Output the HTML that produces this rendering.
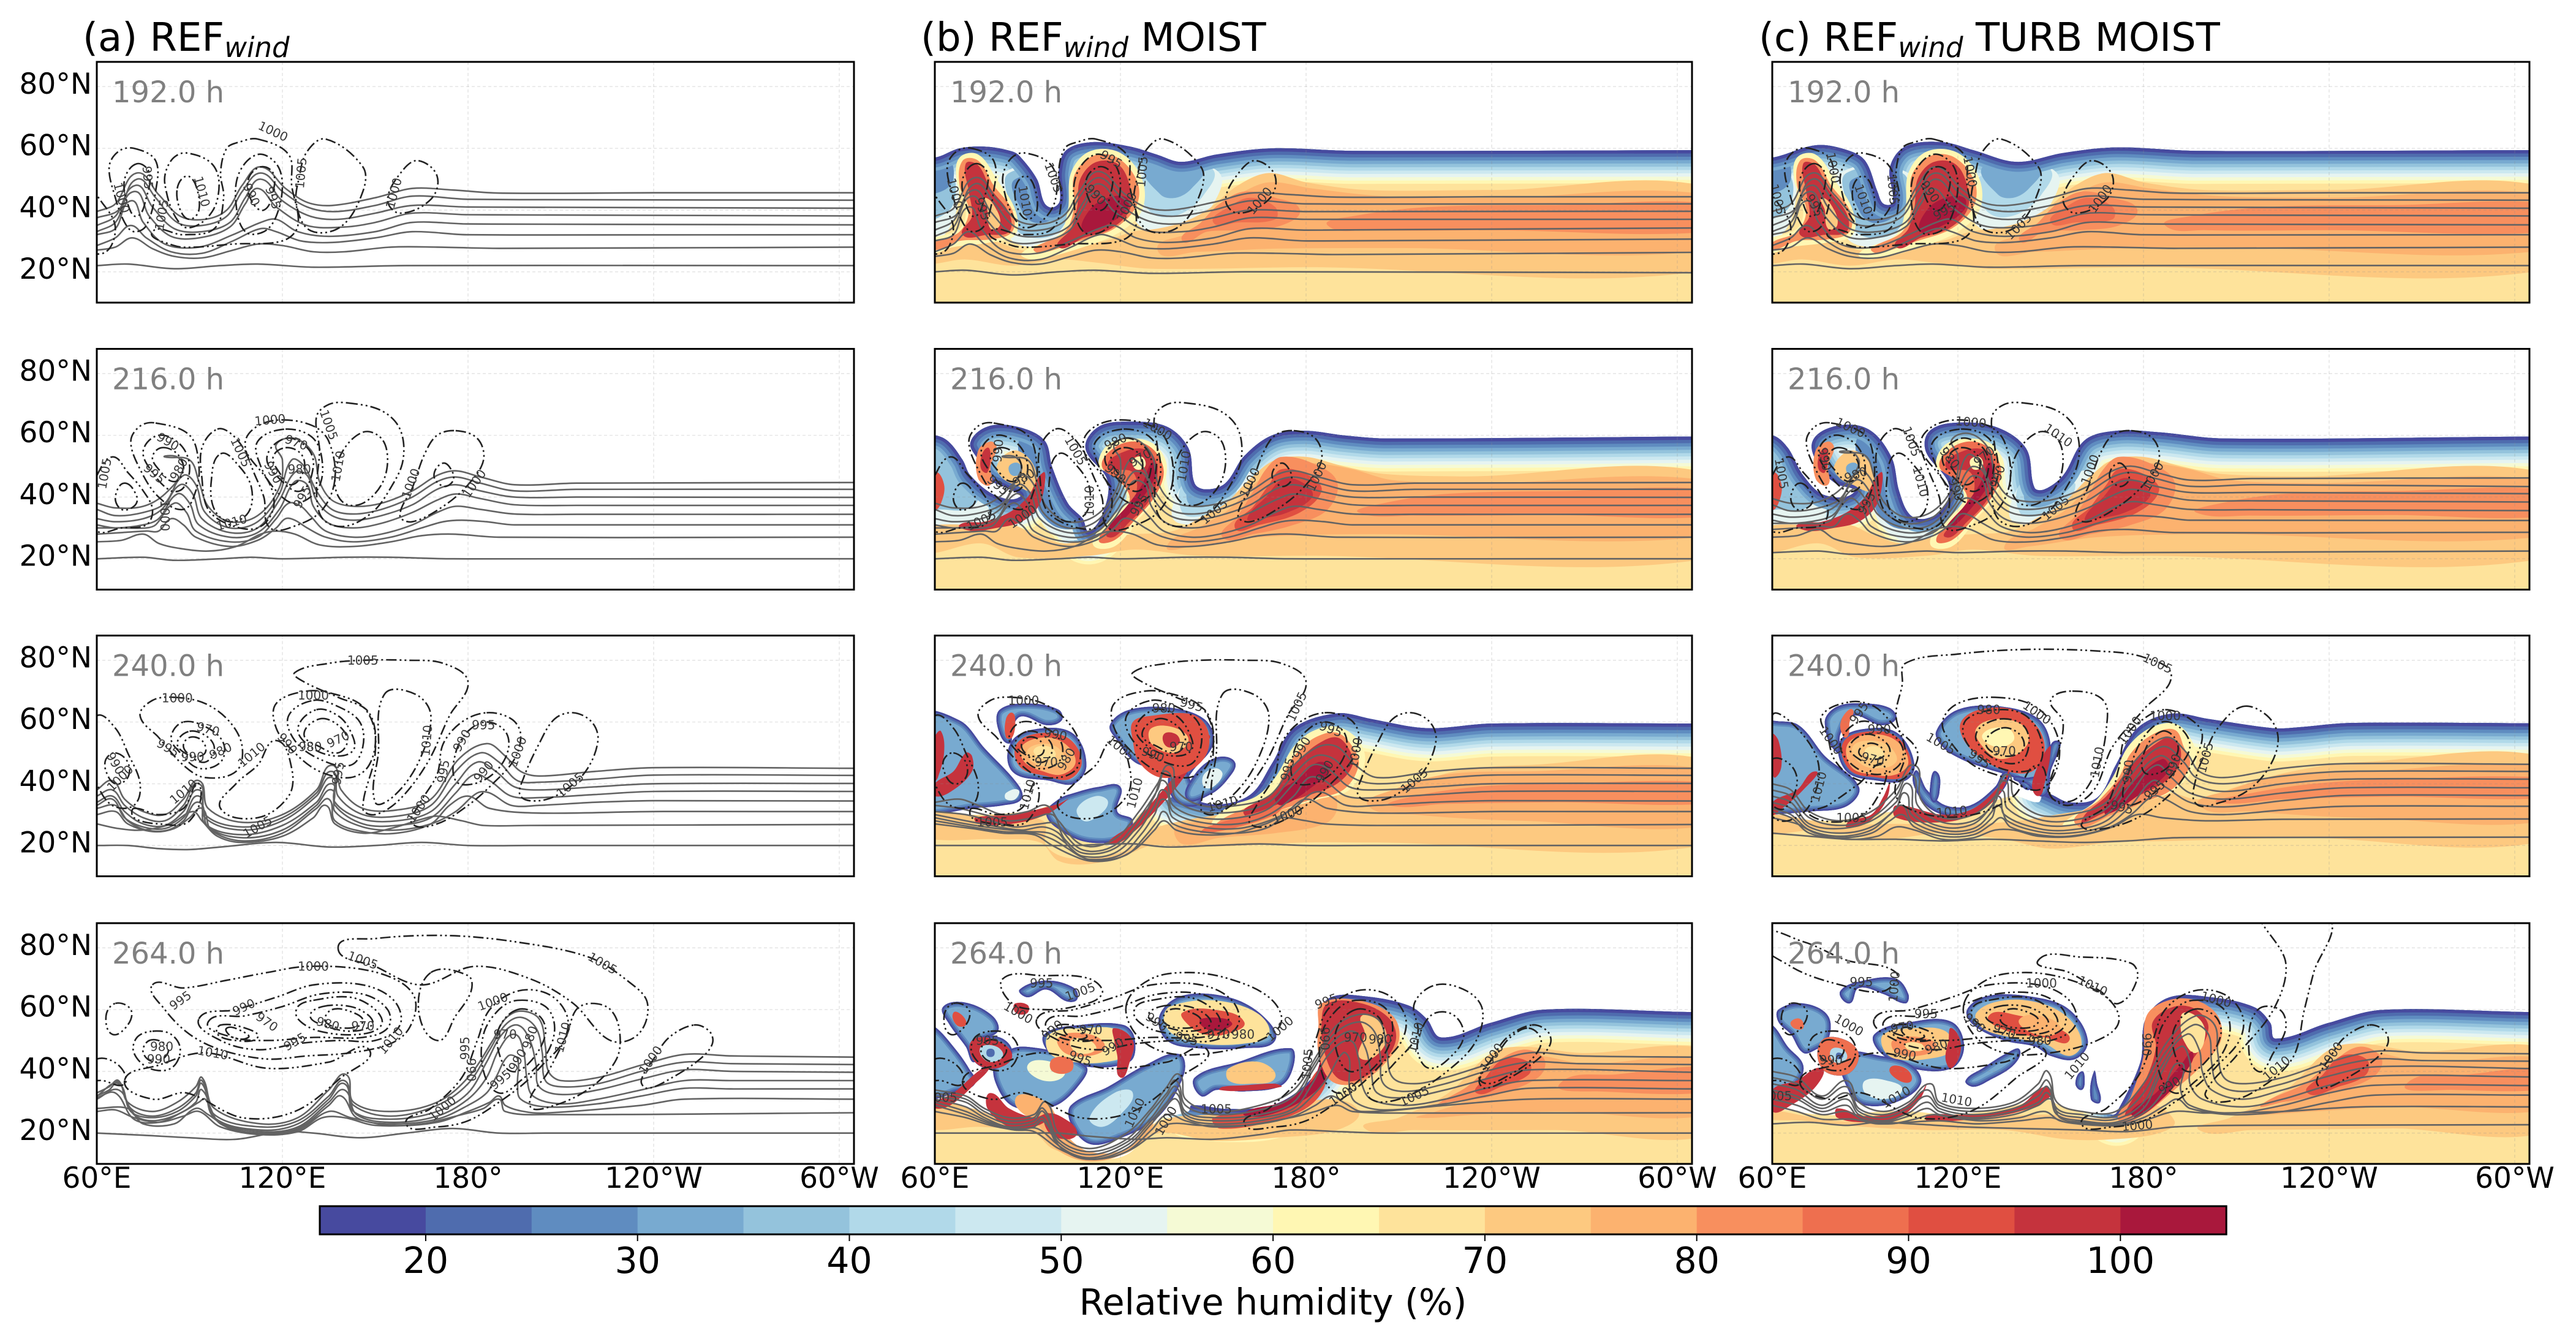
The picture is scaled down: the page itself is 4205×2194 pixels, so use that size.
<!DOCTYPE html>
<html lang="en">
<head>
<meta charset="utf-8">
<title>Relative humidity and sea level pressure panels</title>
<style>
html,body{margin:0;padding:0;background:#fff;}
svg{display:block;font-family:"DejaVu Sans","Liberation Sans",sans-serif;}
</style>
</head>
<body>
<svg id="figure" xmlns="http://www.w3.org/2000/svg" width="4205" height="2194" viewBox="0 0 4205 2194">
<rect x="0" y="0" width="4205" height="2194" fill="#fff"/>
<text x="135" y="83" font-size="64">(a) REF<tspan font-size="45" font-style="italic" dy="10">wind</tspan></text>
<text x="1503" y="83" font-size="64">(b) REF<tspan font-size="45" font-style="italic" dy="10">wind</tspan><tspan dy="-10"> MOIST</tspan></text>
<text x="2871" y="83" font-size="64">(c) REF<tspan font-size="45" font-style="italic" dy="10">wind</tspan><tspan dy="-10"> TURB MOIST</tspan></text>
<text x="2078" y="2146" font-size="58.5" text-anchor="middle">Relative humidity (%)</text>
<g id="panels"></g>
<g id="colorbar"></g>
</svg>
<script>
/* ---------- axis data ---------- */
const lonTicks = [60,120,180,240,300];
const lonTickLabels = ['60°E','120°E','180°','120°W','60°W'];
const latTicks = [20,40,60,80];
const latTickLabels = ['20°N','40°N','60°N','80°N'];
const rhTicks = [20,30,40,50,60,70,80,90,100];
const rhBounds = [15,20,25,30,35,40,45,50,55,60,65,70,75,80,85,90,95,100,105];
const rhColors = ['#474a9f','#4f6cae','#5f8cc0','#78aad0','#94c3dc','#b1d9e9','#cce8f0','#e6f4f1','#f5fad5','#fff7b3','#fee39b','#fdc980','#fcb26f','#f88f5e','#ee6f4f','#e04f41','#c5333d','#a9183c'];

/* ---------- theta contours (lon,lat pairs) ---------- */
const theta_a192 = [
[60,39.5,66,42,73,52,80,45,87,38,95,37,102,40,107,48,113,54,121,47,128,42.5,136,41.5,150,44,162,47,175,46.5,190,45.5,240,45.6,305,45.6],
[60,37.5,67,40,73,50,79,44,86,36,94,35,102,38,107,46,113,52,120,46,128,41,137,39.5,150,41.5,162,44.5,180,43.5,305,43.2],
[60,35,66,38,72.5,48,78,41,85,34,94,33,103,36,108,44,113,50,120,43,129,38,138,37,150,39,162,41.5,180,41,305,40.6],
[60,33,66,36,72,46,77,38,84,31.5,93,31,103,34.5,108,42,112,47,118,41,128,35,140,34.5,150,36,162,39,180,38.5,305,38.1],
[60,32,66,34,71,43,75,36,82,29,93,28,104,32,113,36,118,37,125,33,135,31.5,150,33,162,36,180,35.5,305,35.2],
[60,28.5,66,31,71,35,76,31,84,26.5,94,26,104,30,113,34,118,33,126,30,136,29.5,150,31,162,33,180,32,305,32],
[60,27,66,28,71.5,31,78,27.5,85,25,94,24.5,104,27,112,29,120,28.5,130,26.5,140,26.5,155,28,170,28,190,27.6,305,28],
[60,22,70,22.5,85,21,100,22,112,22.5,130,21.5,160,22,305,22]];
const theta_a216 = [
[60,38,66,36.5,75,37,82,41,88,49,86,53,82,53,90,52,93,45,96,37,103,32,112,34,119,43,120,52,118,57,124,59,130,54,132,45,136,39,143,37,152,38,162,42,170,47,176,48.5,184,46.5,195,44,215,44.5,305,44.7],
[60,36,66,34,75,35,82,38,88,47,92,44,95,35,103,30,112,32,119,41,123,52,127,50,131,42,136,36,143,34.5,152,36,162,40,170,45,176,46.5,184,44.5,195,42,215,42.5,305,42.5],
[60,33,66,32,75,33,81,36,87,44,91,41,94,33,103,28.5,112,30,119,39,124,48,128,47,131,39,136,34,143,32.5,152,34,162,37.5,170,42.5,176,44,184,42,195,40,215,40,305,39.9],
[60,31,66,30,75,31,80,33,86,41,90,38,93,31,103,27,112,28.5,119,36,124,45,128,44,130,37,135,31.5,143,30,152,31.5,162,35,170,39,176,41,184,39.5,195,37.5,215,37.3,305,37.3],
[60,30,68,30,76,30,79,31,85,38,89,35,92,29,103,25.5,112,27,118,33,122,38,126,37,129,34,134,29,143,27,152,28,162,31,170,35,176,37,184,36,195,34.5,215,34.4,305,34.4],
[60,28,68,28.5,76,29,80,29,84,33,88,31,92,27,103,24,112,26,118,30,121,33,124,32.5,128,30,134,27,143,25.5,155,27,165,30,172,32,178,32.5,186,32,195,31,305,31],
[60,25.5,68,26,75,28,80,25,86,23.5,96,22.5,105,24,113,28,118,29,124,28,132,24.5,143,24,155,25.5,165,27.5,175,28,190,27,305,27],
[60,20,75,20.5,85,19.5,100,20,110,20.5,120,20,140,20.5,155,20.5,175,20,305,20]];
const theta_a240 = [
[60,38,65,41,69,35,75,31,82,30,88,35,93,41,96,32,107,27.5,120,30,131,38,136,46,139,38,146,32,157,31.5,168,35,177,48,186,53,192,49,197,44,203,42.5,221,44,240,45.2,305,45],
[60,36,65,38,69,33,75,29,82,28,88,33,93,40,95,30,107,26,120,29,131,37,136,44,138,36,146,30,157,29.5,168,33,176,44,184,50,190,47,196,41,203,40.5,221,41.5,240,42.8,305,42.7],
[60,34,65,36,69,31,75,27,82,26.5,88,31,93,38,95,29,107,25,120,28,131,36,136,42,137,34,146,28.5,157,28,168,31,176,40,183,47,189,44,195,39,203,38,221,39,240,40,305,40.1],
[60,33,65,35,69,29,75,26,82,25.5,88,29,93,36,95,27,107,23.5,120,26.5,131,34,136,40,137,33,146,27,157,26.5,168,29,176,37,182,43,187,41,194,36,203,35.5,221,36.5,240,37.5,305,37.5],
[60,32,66,33,70,28,76,25,83,25,88,28,93,34,96,26,107,22.5,120,25,131,33,136,38,137,31,146,26,157,25,168,27,176,31,183,37,187,37,194,33,203,33,221,34,240,34.5,305,34.4],
[60,30,66,31,70,27,78,24.5,85,25.5,90,29,94,32,97,25,107,21.5,120,24,131,32,135,35,137,28,146,24.5,157,24,168,27,174,33,180,36,187,32,203,30.5,240,31,305,31],
[60,27,67,25.5,75,25,84,27,91,31,94,28,99,23,107,21,120,23,130,29,134,33,137,27,146,24,155,25.5,165,28.5,170,29.5,178,28,185,26.5,200,26.5,305,26.8],
[60,20,70,20,80,19,90,18.7,100,19.5,118,21,135,19.5,150,20,165,21,180,20,200,20,305,20]];
const theta_a264 = [
[60,33,64,35,67,37,70,30,78,27,86,30,92,35,94,38,98,28,113,23,125,25,135,34,140.5,39,143,30,155,27,170,30,180,38,188,50,192,57,197,59.5,203,57,205,48,206,40,210,37,222,38,236,42,250,45.5,265,45,305,44.6],
[60,32,64,34,67,36.5,71,28,78,25.5,86,28,92,33,94,37,98,26,113,22,125,24,135,32,140,37,143,29,155,25.5,170,29,180,36,187,47,192,55,197,57.5,202,54,204,46,205,37,210,35,222,36,236,40,250,43,265,42.5,305,42.2],
[60,32,67,36,71,27,78,25,86,27,92,32,94,36,98,25,113,21,125,23,135,31,140,36,143,27,155,24.5,170,27,180,33,186,43,191,52,196,55,200,50,202,42,203,35,210,32.5,222,34,236,37.5,250,40.5,265,40,305,39.7],
[60,31,67,34,72,26,78,24,86,26,92,30,94,34,99,24,113,20.5,125,22,135,30,140,34,144,26,155,23.5,170,25.5,180,31,186,38,190,47,195,52,198,46,199,38,201,32,210,29.5,222,31,236,34,250,37,265,37,305,37],
[60,31.5,66,33,72,24.5,80,23.5,88,27,93,30,95,31,100,23,113,20,125,21.5,135,29,139,32,144,25,155,23,170,24.5,180,29,186,33,189,38,193,45,196,44,196,36,197,31,205,28.5,222,29.5,236,32,250,34.5,265,34.3,305,34.3],
[60,28,70,28,75,23,85,23,92,28,96,26,103,21.5,113,19.8,125,21,135,27,142,25,155,22.5,170,23.5,180,27,187,30,190,32,192,29,198,27,205,26.5,236,29,250,31,305,31],
[60,27,66,27.5,72,25,80,23.5,88,25.5,93,27,100,22,113,19.5,125,20.5,133,25,140,25,150,22.5,165,23,178,26,185,28,190,31,192,27,205,26,305,26.6],
[60,20,75,19.3,90,18.5,105,18,120,20.5,130,20,145,18.5,160,20,175,21.5,190,20,205,20,305,20]];
const theta_b240 = [
[60,34,68,35,74,33,82,30,90,31,96,33,100,28,108,20,118,22,126,31,132,40,136,46,138,38,146,33,158,33,168,36,176,46,184,52,190,52,196,46,203,42,221,44,240,45.2,305,45],
[60,33,68,32,76,30,84,28,92,29,98,30,101,25,108,18.5,118,20,126,29,132,38,135,44,138,35,146,31,158,31,168,34,176,43,183,49,189,48,195,42,203,40,221,41.5,240,42.8,305,42.7],
[60,31,70,30,78,28,86,26,94,27,99,27,102,22,108,17.5,118,19,126,27,131,36,134,41,137,33,146,29,158,29,168,32,176,40,182,46,187,45,194,39,203,38,221,39,240,40,305,40.1],
[60,30,70,28,78,26.5,88,25,95,26,100,24,103,20,108,16.5,118,17.5,126,25,131,33,134,38,137,31,146,27.5,158,27,168,30,176,36,181,42,186,41,193,36,203,35.5,221,36.5,240,37.5,305,37.5],
[60,29,70,27,80,25.5,90,24.5,97,24,102,21,105,18,110,15.5,120,17,127,24,131,30,134,35,137,29,146,26,158,25.5,168,28,176,32,182,37,186,37,193,33,203,33,221,34,240,34.5,305,34.4],
[60,28,72,26,82,24.5,92,24,98,22,103,19,107,16.5,112,15,122,17,128,23,132,28,134,31,137,27,146,24.5,158,24,168,26,174,31,180,35,187,32,203,30.5,240,31,305,31],
[60,27,72,25.5,82,24,92,23.5,98,20,104,17,110,15,118,15.5,125,19,131,25,134,28,138,25,146,23.5,157,24,167,27,172,29,180,28,186,27,203,26.5,305,26.8],
[60,20,75,20,95,20,105,20,118,20.5,125,20.5,135,19.5,150,20,165,20.5,180,20,200,20,305,20]];
const theta_b264 = [
[60,34,70,32,76,28,84,25,92,26,96,30,100,20,110,15,122,20,130,28,135,35,139,39,141,31,150,27,165,29,176,34,184,46,190,55,198,58.5,204,56,206,47,208,38,215,36,225,38,238,42,252,46,268,45,305,44.6],
[60,33,70,31,76,27,84,24,92,25,95,28,100,18,110,14,122,18,130,27,135,33,138,37,141,29,150,26,165,27.5,176,32,183,43,189,52,197,56,202,53,204,45,205,36,212,33.5,225,36,238,40,252,43,268,42.5,305,42.2],
[60,32,70,30,76,26,84,23,92,24,95,27,100,17,110,13,122,17,130,25,135,32,138,35,141,27,150,25,165,26,176,30,182,40,188,49,195,53,199,48,201,40,203,33,212,31.5,225,34,238,37.5,252,40.5,305,39.7],
[60,31,70,28.5,76,25,84,22,92,23,95,25,100,16,110,12,122,16,130,24,135,30,138,33,141,26,150,24,165,25,176,28,182,36,187,45,194,50,197,44,198,36,201,31,212,29,225,31,238,34.5,252,37,305,37],
[60,30,70,27,78,23.5,86,21.5,92,22,95,24,101,15,110,11.5,122,15,130,23,135,29,138,31,141,25,150,23,165,24,176,27,182,32,187,38,192,46,194,44,194,35,196,30,205,27.5,225,29.5,238,32,252,34.5,305,34.3],
[60,29,70,26,78,23,86,21,93,21.5,100,16,105,13,112,11.5,122,14,130,21,135,26,141,24,150,22,165,23,176,25.5,183,29,188,32,192,30,198,27,225,29,252,31,305,31],
[60,27,70,25,78,22.5,86,21,92,20.5,100,15,108,12,116,12,124,15,131,20,136,23,146,22.5,160,22.5,175,25,183,27,190,29,195,27,215,26.5,305,26.6],
[60,20,80,20,92,20,100,20,110,19,125,18,135,18.5,150,18,165,19.5,175,21,190,20.5,205,20,305,20]];
const theta_b192 = [
[60,38,66,40.5,73,50.5,80,43.5,87,36.5,95,35.5,102,38.5,107,46.5,113,52.5,121,45.5,128,41,136,40,150,42.5,162,45.5,175,45,190,44.2,240,44.3,305,44.3],
[60,36,67,38.5,73,48.5,79,42.5,86,34.5,94,33.5,102,36.5,107,44.5,113,50.5,120,44.5,128,39.5,137,38,150,40,162,43,180,42,305,42],
[60,33.5,66,36.5,72.5,46.5,78,39.5,85,32.5,94,31.5,103,34.5,108,42.5,113,48.5,120,41.5,129,36.5,138,35.5,150,37.5,162,40,180,39.5,305,39.6],
[60,31.5,66,34.5,72,44.5,77,36.5,84,30,93,29.5,103,33,108,40.5,112,45.5,118,39.5,128,33.5,140,33,150,34.5,162,37.5,180,37,305,37],
[60,30,66,32,71,41,75,34,82,27,93,26,104,30,113,34,118,35,125,31,135,29.5,150,31,162,34,180,33.5,305,34.2],
[60,26.5,66,29,71,33,76,29,84,24.5,94,24,104,28,113,32,118,31,126,28,136,27.5,150,29,162,31,180,30,305,30.6],
[60,25,66,26,71.5,29,78,25.5,85,23,94,22.5,104,25,112,27,120,26.5,130,24.5,140,24.5,155,26,170,26,190,25.6,305,26.3],
[60,20,70,20.5,85,19,100,20,112,20.5,130,19.5,160,20,305,19.7]];
const theta_c216 = [
[60,39.5,66,38,75,38.5,82,42.5,88,50.5,86,54.5,82,54.5,90,53.5,93,46.5,96,38.5,103,33.5,112,35.5,119,44.5,120,53.5,118,58.5,124,60.5,130,55.5,132,46.5,136,40.5,143,38.5,152,39.5,162,43.5,170,48.5,176,50,184,48,195,45.5,215,46,305,46.2],
[60,37.5,66,35.5,75,36.5,82,39.5,88,48.5,92,45.5,95,36.5,103,31.5,112,33.5,119,42.5,123,53.5,127,51.5,131,43.5,136,37.5,143,36,152,37.5,162,41.5,170,46.5,176,48,184,46,195,43.5,215,44,305,43.4],
[60,34.5,66,33.5,75,34.5,81,37.5,87,45.5,91,42.5,94,34.5,103,30,112,31.5,119,40.5,124,49.5,128,48.5,131,40.5,136,35.5,143,34,152,35.5,162,39,170,44,176,45.5,184,43.5,195,41.5,215,41.5,305,41.1],
[60,32.5,66,31.5,75,32.5,80,34.5,86,42.5,90,39.5,93,32.5,103,28.5,112,30,119,37.5,124,46.5,128,45.5,130,38.5,135,33,143,31.5,152,33,162,36.5,170,40.5,176,42.5,184,41,195,39,215,38.8,305,38.4],
[60,31.5,68,31.5,76,31.5,79,32.5,85,39.5,89,36.5,92,30.5,103,27,112,28.5,118,34.5,122,39.5,126,38.5,129,35.5,134,30.5,143,28.5,152,29.5,162,32.5,170,36.5,176,38.5,184,37.5,195,36,215,35.9,305,35.6],
[60,29.5,68,30,76,30.5,80,30.5,84,34.5,88,32.5,92,28.5,103,25.5,112,27.5,118,31.5,121,34.5,124,34,128,31.5,134,28.5,143,27,155,28.5,165,31.5,172,33.5,178,34,186,33.5,195,32.5,305,32.4],
[60,27,68,27.5,75,29.5,80,26.5,86,25,96,24,105,25.5,113,29.5,118,30.5,124,29.5,132,26,143,25.5,155,27,165,29,175,29.5,190,28.5,305,28.6],
[60,22,75,22.5,85,21.5,100,22,110,22.5,120,22,140,22.5,155,22.5,175,22,305,22.5]];
const theta_c240 = [
[60,40,66,38,72,31,82,28,92,31,100,38,106,46,108,35,115,29,125,30,132,36,136,43,138,36,146,30,156,30,168,34,176,46,187,55,194,50,198,44,206,42,225,45,245,46.5,305,46.3],
[60,38,66,36,72,29,82,26.5,92,29,100,36,105,43,107,33,115,27.5,125,28,132,34,135,41,137,34,146,28.5,156,28,168,32,176,43,186,52,193,47,197,42,206,40,225,42.5,245,44,305,44],
[60,36,66,34,72,27,82,25.5,92,28,100,34,104,40,106,31,115,26,125,27,131,33,134,38,136,32,146,27,156,26.5,168,30,176,40,185,49,191,45,196,40,206,37.5,225,40,245,41.5,305,41.5],
[60,34,66,32,72,26,82,24,92,26,100,32,103,37,105,30,115,25,125,25.5,131,31,133,36,135,30,146,25.5,156,25,168,28,176,37,184,46,189,42,195,37,206,35,225,37,245,38.7,305,38.7],
[60,32,66,30,72,25,82,23,92,25,98,30,102,33,105,28,115,24,125,24.5,131,29,133,33,136,28,146,24.5,156,24,168,26.5,176,33,183,41,187,39,195,34,206,32.5,225,34.5,245,36.2,305,36.2],
[60,31,66,29,72,24,82,22.5,92,24,98,28,102,30,106,26,115,23,125,23.5,131,27,134,29,137,26,146,23.5,156,23,168,25.5,176,30,183,36,187,35,195,31,206,30,225,31.5,245,32.7,305,32.7],
[60,29,68,27,74,24,84,22,94,23,100,26,106,25,115,22,125,22.5,132,25,138,25,146,23,158,23,170,26,178,30,186,29,200,28,225,28.5,305,28.6],
[60,24,72,23,85,22,100,22,115,21.5,130,22,145,21.5,160,21,175,21.5,190,22.5,210,22.6,305,22.7]];
const theta_c264 = [
[60,40,68,38,76,32,84,37,88,30,96,27,104,30,111,36,114,30,125,28,138,30,146,36,149,40,152,30,160,27,171,27,180,36,188,50,197,58,203,55,204,46,206,38,212,36,225,38,240,43,255,46.5,270,46,305,45.7],
[60,38,68,36,76,31,84,35,88,28,96,26,104,29,110,34,114,29,125,27,138,29,146,34,149,37,152,28,160,26,171,25.5,180,33,187,46,196,55,201,52,202,43,204,36,212,33.5,225,36,240,41,255,44,270,43.5,305,43.3],
[60,36,68,34,76,29,84,33,88,27,96,25,104,28,110,32,114,28,125,26,138,28,146,32,149,35,152,27,160,25,171,24.5,180,30,186,42,194,52,198,47,199,40,202,34,212,31,225,34,240,38.5,255,41.5,305,40.9],
[60,34,68,32,76,28,84,31,88,26,96,24,104,26.5,110,30,114,27,125,25,138,27,146,30,149,33,152,26,160,24,171,23.5,180,28,185,38,192,48,195,43,195,36,199,31,212,28.5,225,31,240,35.5,255,38.5,305,38.2],
[60,33,68,31,76,27,84,29,88,25,96,23.5,104,25.5,110,28,114,26,125,24.5,138,26,146,29,150,31,153,25,160,23.5,171,23,180,26.5,186,33,190,42,193,42,192,34,195,29,208,26.5,225,29,240,33,255,35.5,305,35.4],
[60,31,68,29,76,26,84,27,90,24,98,23,106,24.5,112,26,118,25,128,24,140,25,148,27,153,24,161,23,171,22.5,180,25,187,29,191,31,195,28,208,26,225,27,240,30,255,32.3,305,32.3],
[60,29,68,27,76,24.5,86,24.5,94,23,104,23.5,114,24,126,23,140,24,150,25,155,23.5,165,22.5,173,22.5,180,24,190,27,200,26.5,225,27,250,28.5,305,28.5],
[60,23,72,23.5,84,22.5,94,23.5,105,23,122,22,140,21.5,160,21,175,20.5,190,22,210,22.5,305,22.7]];

/* ---------- pressure contours (closed rings, lon,lat pairs) ---------- */
const slp_192 = [
[56,47,62,42,66,34,62,26,54,30],
[72,60,79,56,79,46,76,35,72,33,69,36,66,44,64,54,67,59],
[73,55,77,52,76,44,73,38,70,42,69,50],
[82,48.5,84,56,89,58.5,98,54,99,43.5,94,36,87.5,35],
[86,47,89,51,92,48,93,40,90,37,87,40],
[112,63,122,58,123,48,125,35,120,30,104,29,92,28,85,28.5,78,33,88,32,98,34,101,44,100,52,102,60,106,62],
[112,58,118,55,120,48,118,38,114,33,108,33,105,42,106,52],
[113,54,117,52,117,46,114,40,110,43,109,50],
[134,63,146,54,146,46,139,34.7,129,33.4,124.5,42,125.5,51,128,59],
[164,56,170,51,168,43.5,158,39,154,43.5,159,53]];
const slp_216 = [
[79,64,90,60,93,50,92,42,88,36,80,40,74,49,71,58,74,63],
[80,60,87,57,90,50,88,43,84,42,78,48,75,55],
[81,56,86,54,88,49,85,45,80,49,78,53],
[69,44.5,73,40,72,37,68,36,66,40],
[60,47,65,53,70,48,75,42,78,36,76,31,68,30,60,29,56,38],
[99,62,104,60,110,52,116,44,117,36,112,30,103,31,96,36,94,46,94,56],
[100,54,106,50,110,43,109,35,103,32,98,36,97,45],
[120,65,130,63,135,58,137,46,133,36,125,31,116,30,114,40,110,50,108,58,112,63],
[121,62,130,59,133,50,131,42,124,38,118,42,113,50,112,58],
[121,59,128,56,130,50,126,42,119,46,115,53],
[121,56,126,54,127,49,123,44,119,48,117,53],
[141,70.5,152,68,158,62,159,52,155,43,149,35,140,30.5,133,33,131,42,132,55,131,66,135,70],
[146,61,152,59,154,52,152,44,146,38,140,38,137,44,139,54],
[176,61.5,183,59,185,52,180,44,172,37,162,32,158,34,162,43,166,54,170,60],
[172,51,175,48,175,45,172,43.5,169,47]];
const slp_a240 = [
[124,76,135,79,146,80,160,80,172,79,180,73,174,62,167,47,158,35,150,30,146,32,150,50,148,63,138,68,127,73],
[153,69,163,69,168,62,164,47,156,36,150,34,151,50],
[85,68,95,66,103,60,107,52,105,44,95,42,88,46,80,55,74,62,78,67],
[88,60,96,58,101,53,100,47,93,45,87,50,84,55],
[90,57,96,55,98,51,95,47,90,49,86,53],
[90,55,94,54,95,50,91,49,88,52],
[128,70,137,69,146,65,150,56,148,46,142,42,132,44,124,50,118,58,118,66],
[130,67,138,65,145,60,146,52,142,46,132,48,124,54,122,62],
[131,64,138,62,142,57,143,51,137,49,129,52,125,58],
[132,61,138,59,141,54,138,50,132,52,127,56],
[118,54,123,45,122,36,112,29,100,32,105,40,112,46],
[186,63,194,61,197,56,195,48,188,40,180,33,170,27,162,27,164,33,170,43,172,53,178,60],
[186,60,192,57,193,51,189,44,182,40,176,41,176,50,180,57],
[214,63,220,60,222,54,218,44,210,37,203,34.5,197,36,198,42,203,53,208,61],
[60,62,66,58,70,50,74,40,72,33,65,33,60,40,56,52],
[66,50,70,47,70,42,66,40,63,44,63,48],
[72,32,80,30,88,32,93,40,90,28,80,27,72,29]];
const slp_c240 = [
[103,79,120,82,142,83.5,165,83,180,81,189,75,180,64,170,52,164,38,156,33,150,36,146,46,138,36,125,30,110,30,100,36,103,50,100,62,102,72],
[132,68,145,65,152,56,152,45,146,38,135,42,125,46,118,53,115,60,120,66],
[133,64,142,62,147,54,146,46,138,44,128,48,122,55,123,61],
[134,61,141,59,143,53,140,47,132,48,126,54,127,58],
[134,58,140,56,141,51,135,49,129,53],
[157,70,167,67,168,58,165,45,158,35,150,36,152,48,154,60,150,67],
[85,66.5,93,65,100,58,107,50,103,42,95,40,86,42,80,48,78,55,76,62],
[88,60,96,58,102,52,101,46,94,43,86,46,82,53],
[90,56,96,54,98,50,94,46,88,48,85,52],
[91,53,95,52,96,49,92,48,88,50],
[187,64,195,61,199,56,196,47,188,36,176,28,163,25,160,27,168,33,172,45,174,55,180,61],
[186,60,192,58,195,52,191,45,182,36,174,34,176,46,180,55],
[186,57,190,55,191,50,186,44,180,44,181,52],
[212,65,220,62,223.5,55,221,46,214,38,205,34,197,33.5,197,42,200,50,204,58],
[60,48,66,46,68,40,64,32,60,33,55,40],
[60,62,68,58,75,46,72,33,65,28,60,30],
[72,30,85,28,93,34,96,46,88,40,78,33]];
const slp_common264 = [
[93,57,105,60,118,64,130,68,146,68,156,63,158,55,150,50,138,50,125,49,112,47,100,50],
[96,56,108,58,120,61,132,65,146,65,154,60,154,54,146,51,130,51,116,50,104,51],
[130,63,142,64,150,60,152,55,145,52,132,53,125,57,125,61],
[133,61,142,61,148,58,149,55,142,53,133,55,129,58],
[136,60,143,59,146,56,141,54,134,56],
[100,55,108,54,112,51,105,50,99,52],
[102,54,107,53,109,51,104,51],
[78,53,84,52,87,47,84,41,77,41,72,46,73,51],
[77,50,82,49,83,46,79,43,75,46],
[66,62,71,60,70,55,65,52,63,58],
[196,66,206,65,212,58,211,50,204,42,198,36,190,30,180,24,170,22,160,23,168,28,178,38,183,50,187,60],
[196,63,205,61,208,54,205,45,197,37,190,33,185,40,185,52,190,60],
[196,60,203,58,205,52,200,43,194,40,190,46,190,54],
[69,37,78,31,89,33,107,25,124,27,139,38,148,47,135,43,115,41,95,46,80,42],
[60,44,67,42,69,36,62,37,56,38],
[253,55,258,53,259,49,255,44,246,38,238,34.5,236,37,240,44,245,51]];
const slp_a264top = [
[138,80,150,83,173,84,195,82,219,77,232,69,238,62,235,52,226,50,214,62,200,70,182,74,165,68,150,74],
[78,68,88,67,102,69.5,115,72,128,74,146,73,158,69,163,63,161,54,155,49,142,46,128,45,115,44,100,47,90,52,82,60],
[168,72,180,71,181,66,176,58,170,50,164,60],
[220,62,226,60,229,53,228,44,220,35,208,29,200,29,206,40,212,52,215,60]];
const slp_b264top = [
[82,70,95,71,110,70,114,65,105,61,95,60,85,62],
[122,62,130,70,142,72,155,70,168,64,172,56,165,50,150,46,135,46,125,52],
[222,68,232,66,237,60,235,50,228,42,215,33,204,30,200,33,208,42,216,52,215,62],
[222,59,228,58,231,52,228,46,220,41,216,47,218,55],
[252,54,256,50,253,44,246,39,239,36,236,38,242,46,246,51]];
const slp_c264top = [
[146,76,160,77,176,75,178,70,172,62,166,66,156,72],
[218,95,240,90,235,72,232,60,228,44,215,33,204,30,200,33,210,45,222,60,226,75],
[56,84,70,82,84,76,100,72,96,66,82,68,66,74],
[122,62,130,70,142,72,155,70,168,64,172,56,165,50,150,46,135,46,125,52],
[217,60,224,60,226,54,222,46,217,40,214,50]];

/* ---------- pressure contour labels (text, lon, lat, rotation) ---------- */
const slpText_a192 = [['1000',117,65.5,25],['1005',126,52,-85],['1000',156,45.5,-75],['1010',94,46,75],['1000',68,44,75],['1005',81,38.5,-80],['995',76.5,50.5,85],['990',110,45,65],['995',117,44,70]];
const slpText_b192 = [['995',117,56.5,30],['1005',127,52.4,-85],['1005',98.4,50.5,70],['990',112,45,45],['1000',66.5,45.4,75],['1010',89.2,43,80],['995',75.4,40.4,70],['1000',122,41,-65],['1000',165,43,-50]];
const slpText_c192 = [['1000',79.7,53.7,80],['1000',124,52.4,80],['1005',61.7,43.5,75],['1005',99,46.7,85],['1010',89.5,43.5,70],['995',73.7,41.6,60],['990',111,46,55],['995',115.6,39.7,-30],['1005',139.6,34.7,-45],['1000',166,43.7,-55]];
const slpText_a216 = [['1000',116,65,-5],['1005',135,63.4,70],['990',83,58,30],['1005',62.5,47.6,-80],['995',78.6,47.6,40],['980',86.5,49,-60],['1000',82,34,90],['1005',106.5,54.5,65],['1010',103.6,31.8,-15],['990',117,48,60],['970',124.5,57.7,20],['980',125.5,49,0],['995',126.4,40,-60],['1010',138,50,-80],['1000',161.5,44.4,-70],['1000',182,44.4,-55]];
const slpText_b216 = [['1000',132,62,30],['980',118.4,58,-25],['990',80.4,55,-85],['1005',105.5,55,60],['970',126.4,52.7,-30],['990',118.4,47.6,40],['980',88.7,46.3,-30],['995',80.4,43.8,40],['1010',140.5,50,-80],['1000',161.8,44.7,-65],['1000',183.4,46.7,-65],['1010',110,38.7,-90],['995',126,37.5,-60],['1005',150.3,35.3,-40],['1005',75,32.4,-25],['1000',88.3,33.7,-35]];
const slpText_c216 = [['1000',85.3,62.5,25],['1000',124.2,64.3,5],['1005',105,58,70],['1010',152.5,60,35],['1005',63,47.6,80],['990',77,52.3,80],['980',87,47.3,-20],['980',117.4,52.7,50],['970',128.5,53.3,-40],['1010',108,45,75],['990',119.4,42.5,70],['990',132.8,46.7,-70],['995',90.5,38,-60],['1000',162.7,48.9,-70],['1000',183,46.7,-60],['1005',151.6,36.5,-40]];
const slpText_a240 = [['1005',146,80,0],['1000',86,67.8,0],['1000',130,68.7,0],['970',96,57.7,15],['980',100,50.6,-25],['990',91,48.7,0],['995',83,51.6,30],['990',121.6,53,50],['980',129,52,0],['970',138,54.4,-25],['1010',110,49.4,-40],['1010',88,37.5,-40],['1005',112,26,-30],['1010',166.6,54,-85],['995',185,59,0],['990',178,54,-60],['995',172,44,-80],['990',185,44,-50],['1000',164,32,-55],['1000',196,50.4,-70],['1005',213,39.6,-40],['995',138,43.4,-80],['990',66,46.6,60],['1000',67.5,41.8,-45]];
const slpText_b240 = [['1005',177,65,-65],['1000',88.7,67,0],['980',134,64.5,0],['995',143,65.6,15],['995',188,57.7,20],['990',178.6,51.6,-60],['995',174,44.7,-75],['990',186,44,-60],['1000',196,50,-80],['1005',215,41,-40],['1000',174,30,-20],['1005',78.6,27.6,0],['1010',90,36.5,-75],['1010',153,33.5,-15],['1010',124.6,37,-75],['1005',120,51.6,40],['990',130.5,49.5,20],['970',139.6,52,0],['990',99,56,10],['970',96,47,0],['980',102.5,48,-60]];
const slpText_c240 = [['1005',184.6,79,25],['1005',200,48.5,-75],['1000',187,62,0],['1000',175.6,57.3,-55],['1010',165,47,-80],['1000',145.6,63,35],['980',130,64,0],['970',135,50.6,0],['995',127,48,35],['1005',114.5,53,30],['1000',79,54,55],['995',88,63,-55],['990',94.6,57.6,0],['970',92.5,48,15],['1010',75,39,-75],['1005',85.7,29,0],['1010',118,31,-5],['995',173,32.4,15],['995',183.6,38,-40],['990',175,44,-85],['990',189.6,46,-70]];
const slpText_a264 = [['995',87,63,-35],['990',107.5,60.8,-25],['970',115,56,35],['1000',130,74,0],['1005',146,76,20],['1005',223.5,75,30],['980',134.7,55.4,15],['970',146,54.7,0],['995',124,49.6,-30],['1010',155,50,-50],['1010',97.5,46,10],['1000',188,62.6,-20],['970',192,52,0],['980',200,51,-70],['1010',210.6,51,-75],['995',179,47.5,-90],['990',181,40.5,90],['990',196,43.7,-60],['995',190.5,37.3,-40],['1000',171.7,28,-40],['1000',239,43.7,-55],['980',81,48,0],['990',80,44,0]];
const slpText_b264 = [['995',94.5,68.6,0],['1005',107,65.8,-20],['1000',87,59,30],['905',77,50,0],['970',110.4,53.5,0],['990',98,53.4,-40],['990',117.5,48,-30],['995',107,44.3,20],['990',131.7,56,35],['995',141.4,50.6,15],['970',151.7,52,0],['980',159.6,52,0],['1000',171.5,53.8,-40],['1005',180.4,42.4,-85],['995',186.5,62.7,-20],['990',186,50.6,90],['970',196,51,0],['980',204,50.4,0],['1010',215.4,51,-75],['1000',192,32.7,-35],['1005',215,32,-25],['1000',240,44.6,-55],['1010',124.6,26.6,-65],['1000',134.7,24,-60],['1005',151,27.8,0],['005',63.5,31.6,0]];
const slpText_c264 = [['995',88.8,69,0],['1000',99.4,67.4,-85],['1000',84.8,55,30],['995',109.7,58.6,0],['970',102,54.4,-10],['980',113,48,-20],['990',102.8,45.6,10],['990',125.4,55.7,40],['970',135,53,20],['980',146.5,50,0],['1000',147,68.6,0],['1010',163.6,67.7,25],['1000',203.5,63.3,15],['1010',223,41,-40],['1000',240.6,45,-55],['990',181,48.7,90],['990',188.4,35.4,-30],['1000',178,22.5,-5],['1010',100,31.7,-30],['1010',119.6,30.8,10],['1010',158.5,41.8,-50],['005',62.6,32,0],['990',79,43.7,0]];

/* ---------- humidity field outlines ---------- */
const edge_b192 = [60,57,68,60,77,60.5,85,59,87.4,57.5,93,50,95.4,42.3,98,40.8,100.4,43,100,52.4,102.5,59.4,111,62,123,60.6,131.7,58,139.6,55.6,151,58,169,60,195,59.2,305,59.4];
const edge_c192 = [60,57,74,61,84,59.5,90,56,94,46,96,42,99,42.5,98,53.7,103,60.6,115,62,125,59.4,139,55.6,154,58.5,171,60.3,197,59.2,305,59.4];
const edge_b216 = [60,60,64.4,58,69,52,71.5,47,79.5,40.6,87.4,40,83,43,77,46,74,52,71.5,57.7,77,62.8,86.5,62.8,95.4,58.4,98,49.5,103,38,107.8,33,110,29,115,36.8,115.7,45.7,108.7,55.8,113,62.8,123,64.4,135,62.8,142,55.8,144,44.4,147.6,42.5,153.8,44.4,160,53.3,169,60,179.5,61.5,192,60,206,59,305,59.6];
const edge_c216 = [60,60,65,56,70,47,77,40.6,86.5,41.6,80.5,44.4,75.4,49.5,73,58,80.5,63,91,62,98.5,53,101,42,104.5,34.3,109.6,33,115.6,36.8,117,44.4,109.7,54.6,110.5,61,118,64,132,62.8,142,55.8,144.8,43,148,42.5,154,47,161,58.4,171.3,61.5,185,61,205.5,59,305,59.6];
const floor_b240 = [60,30,75,30,90,31,103,33,113,21,120,21,126,30,134,34];
const edge_b240 = [138,36,151,33.3,162,36.5,169,46.6,176,58,190,62.8,201,61,214,58.5,222,58,240,59.5,305,59.5];
const floor_c240 = [60,30,75,28,88,29,100,31,115,29,128,33,138,36,146,34];
const edge_c240 = [148,37,156,34,165,35.5,171,46,178,58,189,62.7,201,61,222,58,230,58.3,247,59.7,305,59.6];
const floor_b264 = [60,28,80,24,92,24,100,16,108,12,122,13,132,24,142,27];
const edge_b264 = [143,29,155,27.8,169,29,179.5,35.4,186.5,45.6,184,58,188,64,199,64.3,213,61.4,219,57,223.7,51,239.6,55.7,257,60,305,59.2];
const floor_c264 = [60,28,75,26,85,26,95,27,105,27,118,26,135,28,148,31,155,28,170,26];
const edge_c264 = [171.3,26.6,179,43,180.7,57,188.4,64,202,64,215.8,60.8,221,55.7,222.7,50.6,239.8,55.7,257,59.9,305,59.2];
const islands_b240 = [
[55,62,68,60.5,76,51.6,87,39.6,88,35,82,33,72,32,60,30,55,30],
[80.4,58,81,64,90,66,100,64,101,60.5,96,59,88,61.8,85,58,84,53],
[85,54,95,58,105,56,109,46,105,40,97,41,85,44],
[116.6,59,123,64,137,64.5,147.6,60.5,150,53,144,45,138.8,40,133.5,44,124.6,47,119,54],
[136,44,140,46,143,40,146,34,140,33,136,37],
[144,43,151,48.5,157,47,154.7,41.5,149,36.5,141.4,35],
[100,35,105,37,113,39,120,39,119,31,124,28,120,22,110,21,102,24,96,30]];
const islands_c240 = [
[55,62,60,60.5,68.5,59,77,49,88,39,84,32.7,72,31,60,30,55,30],
[77,60,81,65,90,66,98,64.5,100,61,95,59,86,62,82,56,81,50],
[82,54,92,58,101,56,106,46,103,41,94,41,84,44],
[113,57,120,64,134,65,146,61,150,52,147,44,143,38,138,42,129,45,121,48,115,52],
[106,44,108,35,115,30,125,30,133,36,137,43,135,44,132,39,124,33,116,33,110,38],
[111,39,113,44,114,37,112,34],
[138,42,142,40,148,36,150,44,152,54,148,44,143,42]];
const islands_b264 = [
[55,56,60,54.4,66,48,71,41,73,36,66,33,60,31,55,31],
[62.6,60.8,69.7,62.3,78.6,58,80.4,53,74,49.4,73,43,70,48,64.4,55.7],
[87.4,66.5,96,69.4,105,67,106,63.3,102.5,62.7,96,66.5,90,64],
[95.4,52,107,55,121,55,124.6,50.6,122.8,43,106,41.8,97,46],
[132.6,58,140,64.5,155,64,166,58,170,50,160,47.5,145,47.5,135,50],
[89,48,108.7,41.8,106,34.8,98,28.5,85.6,28.5,79.5,36.7,80,44],
[104,29,116,35,128,42,139,45.6,140.5,39,132,25,119,18,110,16.5,104,23],
[144,38,158,43,175,47.5,176,42,172,35.4,160,33.5,151,34,146,32],
[73,50,81,51,85,46,80,41,73,43]];
const islands_c264 = [
[55,56,60,55,65,48,70,42,68,36,60,31,55,31],
[62,60,70,62,78,58,78,50,74,47,70,46,66,52,62,56],
[82,66,90,69.5,100,70,104,65,103,62,96,65,88,67,85,62],
[93,52,105,56,118,56,122,48,118,41,105,41,95,46],
[123,60,130,64.5,145,64,156,60,162,50,158,44,150,45,145,48,135,50,125,55],
[83,45,95,45,105,42,108,36,100,30,90,29,85,33],
[122.5,37,128,41,136,46,140,47,138,42,130,37,125,35],
[158,36,160,40,161,37,160,34],
[164,40,165,36,166,30,163,31],
[76,50,84,50,88,45,84,39,76,41]];

/* ---------- dry-side patches painted inside the moist region (level, outline) ---------- */
const cool_192 = [
[7,[55,52,66,52,67,40,62,31,55,30]],
[4,[55,52,65,52,66,42,60,37,55,37]],
[2,[55,56,64,57,66,50,62,46,55,46]],
[7,[82,52,104,52,108,38,104,30,94,28,85,30,82,38]],
[4,[84,52,102,52,104,42,100,33,92,31,86,34,84,42]],
[2,[86,50,102,48,102,42,98,37,92,36,88,40]],
[7,[124,48,140,54,152,52,150,42,142,35,130,33,124,38]],
[5,[126,50,140,54,150,53,147,45,140,39,132,38,127,43]],
[3,[128,54,140,54,147,54,143,47,138,44,133,45]]];
const cool_216 = [
[7,[142,45,150,40,155,45,162,48,160,38,152,32,143,31,137,33,138,40]],
[5,[141,45,148,40,154,44,158,44,154,37,147,34,140,35]],
[3,[143,44,148,41,153,44,154,41,148,37,142,38]],
[7,[55,60,62,58,70,47,77,38,76,32,66,31,55,30]],
[4,[55,60,62,58,68,48,74,40,70,36,62,36,55,36]],
[7,[96,55,100,48,104,36,108,32,112,36,114,30,104,26,96,30,92,40]],
[2,[88,60,94,58,97,50,100,42,104,35,107,31,100,30,94,35,92,42,88,50]]];

/* ---------- humidity patches (level, outline) ---------- */
const warm_192 = [
[11,[315,46,240,46.5,200,46.5,180,49,168,52,158,48,148,40,140,36,132,34,124,33,115,30,105,29,95,26.5,88,27,78,30,68,29,55,29,55,23,70,24,85,22,100,24,112,23,130,21,180,21.5,315,21.4]],
[12,[315,44,240,44,205,44.5,182,47,168,49,158,45,150,40,143,33,132,27,145,26.5,170,27.5,210,27.7,315,27.7]],
[13,[315,41.6,260,41.6,220,41,195,38,187,35,200,33.5,240,33.5,315,33.4]],
[13,[160,46,170,44,178,40,172,35,160,33.5,148,33,140,30,146,36,152,42]],
[14,[162,44,170,41,170,37,158,36,150,36,155,41]],
[9,[104,52,110,59,120,58.5,127,50,127,40,120,33,108,28,92,24,88,26,100,32,103,40]],
[13,[105,51,111,57.5,119,57,125.5,49,125,41,118,34,107,30,94,26,92,27.5,102,33,105,41]],
[16,[107,50,112,55.5,119,55,123,48,123,40,117,34,108,31,100,28,104,34,106,41]],
[17,[110,40,116,44,122,44,122,40,115,35,108,33]],
[9,[68,57,74,58,80,50,86,40,86,32,78,29.5,66,28,58,26,58,30,68,34,70,40,67,50]],
[13,[69,56,74,56,79,48,85,40,85,33,78,30.5,68,30,60,27,60,29.5,68,33,71,40,68,48]],
[16,[70,55,74,54.5,78,47,84,39,84,33,77,32,69,32,72,38,71,46]],
[11,[76,44,80,40,81,35,78,34,77,40]]];
const warm_216 = [
[11,[315,46.5,230,46.7,205,47.5,192,50,180,53,170,52,162,46,154,38,147,34,137,29,125,28,112,27,102,25,92,28,85,31,75,31,55,29.5,55,22,75,25,87,20.5,110,21,125,23,145,21,180,21,315,21]],
[12,[315,44.4,235,44.5,208,45.5,195,49,182,51,172,50,163,44,155,36,145,30,135,24,143,24,165,27,200,28,315,28]],
[13,[315,41.9,260,41.9,225,41,205,38,197,35,215,34,260,34.2,315,34.3]],
[13,[172,53,182,51,190,45,187,36,176,31,163,28,153,27,158,34,163,42,167,49]],
[15,[172,49,181,47,185,42,178,35,165,31,157,30,163,37,168,44]],
[16,[173,46,180,44,182,40,174,35,165,33,161,33,167,40]],
[9,[113,50,116,57,124,59,131,57,135,50,132,40,126,33,118,24,111,25,117,33,122,40,118,47]],
[14,[114,50,118,56,125,58,131,55,134,48,131,40,125,33,118,26,113,26,118,32,123,39,120,45]],
[16,[116,50,122,55,129,55,132,49,130,40,123,32,116,27,120,33,125,41,124,48]],
[9,[124,52,127,53,128,50,125,49]],
[17,[118,30,124,36,130,44,132,50,130,51,127,44,122,37,116,30]],
[13,[74,55,78,58,80,56,78,50,78,44,74,46]],
[16,[75,53,77,56,78,54,77,48,75,49]],
[11,[80,50,85,55,90,53,93,47,92,42,86,44,82,46]],
[3,[84,50,87,51,88,48,85,47]],
[16,[68,31,76,32,84,35,90,40,95,48,95.5,44,93.5,37,88,32,80,30,72,29]],
[15,[60,48,63,44,62,38,60,36,58,42]]];
const warm_b240 = [
[11,[315,46,250,46,228,44,210,38,198,35,188,37,170,33,152,30,140,28,130,25,125,20,115,16.5,103,16,96,20,95,28,80,29,70,30,55,30,55,23,80,22,94,21,100,15,110,14,122,17,130,20,140,19.5,160,20,180,21,200,21,315,21.3]],
[12,[315,43.5,250,44,225,43,208,38,200,33,215,30,250,28,315,27.5]],
[13,[315,40,260,40,235,39,215,36,207,33,225,33.5,260,34,315,34]],
[12,[187,40,170,33,152,28,138,26,140,20.5,152,22.5,170,24,186,27,190,32]],
[9,[176,52,182,57,190,58.5,197,54,199,47,194,38,184,35,170,31,160,29,150,26,154,32,164,36,170,42]],
[13,[177,50,183,55,190,56.5,195,52,197,46,192,38,182,35,170,31,158,28,150,26,162,33,170,38,173,44]],
[16,[178,48,184,53,190,55,194,51,195,46,190,40,180,36,170,33,160,30,168,36,173,42]],
[17,[170,36,178,42,184,47,188,45,182,39,172,33]],
[14,[148,26,165,31,172,33,170,30,158,26,146,24]],
[16,[116,21,124,27,132,36,138,43,145,52,148,56,149,55,145,49,139,40,133,33,125,25,119,20.5]],
[15,[124,60,130,62,143,62.5,148,58,148,50,142,44,133,42,126,47,124,54]],
[11,[130,58,138,58,142,54,137,50,130,53]],
[16,[134,56,138,56,139,53,135,52]],
[15,[86.5,53,95,56.5,103.5,54.5,107.5,47,103.5,41.5,96,42.5,87.5,45.5]],
[12,[88,52,95,55,102,53,105.5,47,101,43,95,44,89,47]],
[11,[90,51,95,53,100,51.5,102,47,96,45.5,91,47.5]],
[10,[92,51,97,52,99,49,95,48]],
[15,[83,55,83,61,85,63,86,60,85,55]],
[16,[60,36,66,38,72,44,72,49,70,50,66,44,60,40]],
[16,[60,55,62,57,63,50,61,42,60,41]],
[16,[73,29,85,30,100,33.5,103,35,96,30,85,27,74,27]],
[7,[83,37,87,38,86,35,83,35]],
[7,[147,43,151,45,153,43,150,39,147,39]],
[6,[106,32,112,36,116,34,112,29,108,28]]];
const warm_c240 = [
[11,[315,47,250,47,228,44,210,39,198,35,188,37,170,33,152,30,140,28,125,27,100,27,80,27,55,30,55,24,75,25,95,22,115,24,135,22,150,19,170,21,190,21.5,230,22.5,315,22.8]],
[12,[315,44.5,250,44,225,43,208,38,198,33,215,31,250,29,315,29]],
[13,[315,41.5,260,41.5,235,40,215,37,204,34,225,35,260,35.8,315,35.8]],
[9,[175,52,182,58,190,59.5,195,55,197,47,190,38,180,34,170,30,158,27,154,27,164,34,170,42]],
[13,[176,50,183,56,190,57.5,193,52,195,46,189,38,180,34,170,30,158,27,166,35,172,42]],
[16,[177,47,184,53,189,55,192,51,191,45,186,40,176,35,166,30,160,28,168,36,173,42]],
[17,[168,33,176,40,186,48,188,44,178,36,168,30]],
[16,[100,33,115,30,125,32,134,40,137,45,133,36,125,30,115,27.5,100,29]],
[16,[85,28,92,30,96,36,98,40,96,33,90,27,84,26]],
[16,[60,34,68,38,74,44,70,38,62,31,60,30]],
[16,[60,56,62,54,63,46,61,42,60,44]],
[15,[121,60,127,64,138,64,146,58,148,50,144,44,136,44,128,48,122,54]],
[11,[126,58,134,61,142,58,142,52,134,48,128,52]],
[9,[128,56,136,58,138,54,132,52]],
[16,[144,40,148,50,150,52,148,40,146,36]],
[15,[83,53.5,92,57,100.5,55,105,46.5,102,42,94,42,85,44.5]],
[12,[84.5,53,92,56,100,54,104,47,100,43,92,43,85.5,45.5]],
[11,[86,52,92,54,98,52,100,47,93,45,88,47]],
[10,[90,51,94,52,96,49,92,48]],
[14,[82,58,83,62,86,64,85,60,84,55]]];
const warm_b264 = [
[11,[315,45,268,46,250,48,240,46,226,33,210,25,199,21.5,215,21,260,21,315,21]],
[12,[315,43,270,42.5,255,45,243,43,232,31,222,27,216,25,235,26,260,27,315,27]],
[13,[315,41,280,39,262,36,275,33.5,315,34]],
[13,[250,47,257,44,255,38,240,32,226,30,222,29,232,35,240,42]],
[15,[244,44,252,43,252,39,243,35,235,33,238,38]],
[11,[55,30,72,28,84,24,96,27,102,17,110,13,122,15,133,24,150,26,172,27,186,31,197,27,190,21,170,18.5,150,17.5,132,20,122,13.5,110,11.5,98,15,92,20,75,22,55,22]],
[12,[86,31,96,30,102,20,110,14,122,15,130,24,128,18,118,12,108,11,99,15,94,22]],
[15,[150,25,165,27,178,32,185,41,186,35,180,28,168,23.5,152,21.5]],
[17,[160,26.5,172,30,182,37,188,47,186,37,178,30,166,25.5]],
[13,[185,62,197,63,208,58,210,50,204,41,196,36,188,37,184,46,184,55]],
[16,[187,62,198,62,207,57,209,50,204,42,196,37,190,38,186,46,185,55]],
[11,[198,58,204,56,206,50,201,44,197,45,199,52]],
[16,[153,35,160,35.5,170,36,172,35,160,33.7,152,34]],
[11,[155,41,165,43,170,38,162,36,155,37]],
[10,[136,61,150,63,164,59,168,52,160,49,146,49,137,52,134,57]],
[15,[140,59,150,60,160,56,154,52,147,52,142,55]],
[17,[146,57,154,57,156,55,150,53,146,55]],
[10,[97,52,108,54,120,53,122,46,115,43,105,43,97,46]],
[13,[100,51,110,52,115,48,110,45,102,46]],
[10,[104,50,110,50,112,47,106,46]],
[16,[118,54,124,50,123,43,120,38,119,45,118,50]],
[16,[72,50,80,50,85,45,80,41,73,43]],
[5,[75,48,80,48,82,45,78,43,75,45]],
[1,[77,47,79,47,79,45,77,45]],
[15,[66,59,69,58,70,55,67,55]],
[16,[86,62,90,61.5,90,59,87,58.5,85.5,60]],
[16,[60,30,66,33,74,40,78,42,73,36,65,29,60,28]],
[16,[78,33,84,28,92,25,97,26,92,22,84,22,77,28]],
[16,[96,26,103,24,106,20,103,18,97,20]],
[8,[90,42,98,43,102,39,95,37]],
[14,[98,44,104,44,104,40,98,40]],
[6,[110,25,118,33,124,33,120,26,114,22]]];
const warm_c264 = [
[11,[315,45.5,268,46.5,250,49,240,47,226,34,208,25,198,21,215,21,260,21.5,315,22]],
[12,[315,43,270,43,255,46,243,44,232,33,220,28,212,26,235,27,260,28.5,315,28.5]],
[13,[315,41,285,39,265,36,280,34,315,35]],
[13,[250,48,257,44,254,38,240,33,225,30,218,29,232,36,241,43]],
[15,[244,45,252,44,252,39,243,35,233,33,238,39]],
[11,[55,28,80,24,100,24,125,25,150,26,172,25,180,30,190,24,185,20,170,18,155,18,135,21,110,21,90,22,70,24,55,25]],
[16,[81,28,90,25.5,100,27,108,33,110,36,107,30,100,24.5,90,23.5,81,25]],
[16,[110,26,125,26,140,29,148,35,150,32,140,27,125,24.5,110,24]],
[13,[181,58,188,63,197,63,204,58,205,50,199,42,190,34,180,26,172,24,176,32,180,45]],
[16,[183,56,190,61,197,60,201,54,196,44,188,36,178,27,174,26,181,38,184,48]],
[10,[193,59,198,57,200,52,197,46,193,50,192,55]],
[17,[176,27,184,33,192,42,196,46,193,39,186,31,178,25]],
[11,[126,59,135,63,147,62,156,57,160,49,156,45,148,49,137,51,128,54]],
[15,[130,58,140,58,150,55,156,50,148,51,136,53]],
[12,[140,57,150,57,153,53,145,52]],
[11,[96,52,106,54,116,53,118,47,110,44,100,44,96,47]],
[13,[99,50,108,51,113,48,107,45,100,46]],
[10,[103,49,108,49,109,47,104,47]],
[16,[118,54,121,48,118,41,116,44,117,50]],
[14,[76,50,84,50,88,45,84,39,76,41]],
[5,[79,47,83,47,84,44,80,43]],
[1,[81,46,83,45,81,44]],
[14,[66,56,69,57,70,54,67,54]],
[16,[60,34,68,37,76,41,74,35,66,29,60,27]],
[7,[90,37,97,37,102,34,96,31,90,33]],
[15,[98,41,103,41,105,37,101,37]]];

/* ---------- panel layout ---------- */
const columnLeft = {a:158,b:1526,c:2893};
const rowTop = [101,569.5,1037.5,1507];
const panelList = [
{id:'a192',col:'a',row:0,time:'192.0 h',theta:theta_a192,slp:slp_192,text:slpText_a192},
{id:'a216',col:'a',row:1,time:'216.0 h',theta:theta_a216,slp:slp_216,text:slpText_a216},
{id:'a240',col:'a',row:2,time:'240.0 h',theta:theta_a240,slp:slp_a240,text:slpText_a240},
{id:'a264',col:'a',row:3,time:'264.0 h',theta:theta_a264,slp:slp_a264top.concat(slp_common264),text:slpText_a264},
{id:'b192',col:'b',row:0,time:'192.0 h',theta:theta_b192,slp:slp_192,text:slpText_b192,edge:edge_b192,floor:[],islands:[],cool:cool_192,warm:warm_192},
{id:'b216',col:'b',row:1,time:'216.0 h',theta:theta_a216,slp:slp_216,text:slpText_b216,edge:edge_b216,floor:[],islands:[],cool:cool_216,warm:warm_216},
{id:'b240',col:'b',row:2,time:'240.0 h',theta:theta_b240,slp:slp_a240,text:slpText_b240,edge:edge_b240,floor:floor_b240,islands:islands_b240,cool:[],warm:warm_b240},
{id:'b264',col:'b',row:3,time:'264.0 h',theta:theta_b264,slp:slp_b264top.concat(slp_common264),text:slpText_b264,edge:edge_b264,floor:floor_b264,islands:islands_b264,cool:[],warm:warm_b264},
{id:'c192',col:'c',row:0,time:'192.0 h',theta:theta_a192,slp:slp_192,text:slpText_c192,edge:edge_c192,floor:[],islands:[],cool:cool_192,warm:warm_192},
{id:'c216',col:'c',row:1,time:'216.0 h',theta:theta_c216,slp:slp_216,text:slpText_c216,edge:edge_c216,floor:[],islands:[],cool:cool_216,warm:warm_216},
{id:'c240',col:'c',row:2,time:'240.0 h',theta:theta_c240,slp:slp_c240,text:slpText_c240,edge:edge_c240,floor:floor_c240,islands:islands_c240,cool:[],warm:warm_c240},
{id:'c264',col:'c',row:3,time:'264.0 h',theta:theta_c264,slp:slp_c264top.concat(slp_common264),text:slpText_c264,edge:edge_c264,floor:floor_c264,islands:islands_c264,cool:[],warm:warm_c264}
];

const NS = 'http://www.w3.org/2000/svg';
const PANEL_W = 1236, PANEL_H = 393;
const LON_MIN = 60, LAT_MAX = 88, PX_PER_DEG_X = 5.05, PX_PER_DEG_Y = 5.04;
const BAND_DEG = 1.07;

function mk(tag, attrs, parent){
  const el = document.createElementNS(NS, tag);
  for (const k in attrs) el.setAttribute(k, attrs[k]);
  if (parent) parent.appendChild(el);
  return el;
}
function xScale(lon){ return (lon - LON_MIN) * PX_PER_DEG_X; }
function yScale(lat){ return (LAT_MAX - lat) * PX_PER_DEG_Y; }
function toXY(flat){
  const out = [];
  for (let i = 0; i < flat.length; i += 2) out.push([xScale(flat[i]), yScale(flat[i+1])]);
  return out;
}
function smoothPath(flat, closed){
  const p = toXY(flat), n = p.length;
  if (n < 2) return '';
  const at = i => closed ? p[(i + n) % n] : p[Math.max(0, Math.min(n - 1, i))];
  let d = 'M' + p[0][0].toFixed(1) + ' ' + p[0][1].toFixed(1);
  const segs = closed ? n : n - 1;
  const unit = (a, b) => {
    const dx = b[0]-a[0], dy = b[1]-a[1], L = Math.hypot(dx, dy) || 1;
    return [dx/L, dy/L];
  };
  for (let i = 0; i < segs; i++){
    const p0 = at(i-1), p1 = at(i), p2 = at(i+1), p3 = at(i+2);
    const len = Math.hypot(p2[0]-p1[0], p2[1]-p1[1]) / 3;
    const t1 = unit(p0, p2), t2 = unit(p1, p3);
    const c1x = p1[0] + t1[0]*len, c1y = p1[1] + t1[1]*len;
    const c2x = p2[0] - t2[0]*len, c2y = p2[1] - t2[1]*len;
    d += 'C' + c1x.toFixed(1) + ' ' + c1y.toFixed(1) + ' ' + c2x.toFixed(1) + ' ' + c2y.toFixed(1) + ' ' + p2[0].toFixed(1) + ' ' + p2[1].toFixed(1);
  }
  return closed ? d + 'Z' : d;
}

function drawBands(g, clipId, pathD, from, to, deg){
  for (let k = from; k >= to; k--){
    const band = mk('path', {d:pathD, fill:'none', stroke:rhColors[k], 'stroke-width':(2*(k+1)*deg*PX_PER_DEG_X).toFixed(1), 'stroke-linejoin':'round', 'stroke-linecap':'round', 'clip-path':'url(#'+clipId+')'}, g);
    
    
  }
}

function drawField(panel, g, defs){
  const lead = panel.floor;
  const edge = panel.edge;
  const first = lead.length ? lead : edge;
  const open = [first[0]-12, first[1]].concat(lead, edge, [edge[edge.length-2]+14, edge[edge.length-1]]);
  const stroked = (lead.length ? edge : [edge[0]-12, edge[1]].concat(edge)).concat([edge[edge.length-2]+14, edge[edge.length-1]]);
  const regionD = smoothPath(open, false) + 'L' + xScale(330).toFixed(1) + ' ' + yScale(0).toFixed(1) + 'L' + xScale(40).toFixed(1) + ' ' + yScale(0).toFixed(1) + 'Z';
  const clip = mk('clipPath', {id:'moist-'+panel.id}, defs);
  mk('path', {d:regionD}, clip);
  const base = mk('path', {d:regionD, fill:rhColors[10]}, g);
  
  
  const edgeD = smoothPath(stroked, false);
  drawBands(g, 'moist-'+panel.id, edgeD, 9, 4, BAND_DEG);
  panel.cool.forEach(entry => {
    const patch = mk('path', {d:smoothPath(entry[1], true), fill:rhColors[entry[0]], 'clip-path':'url(#moist-'+panel.id+')'}, g);
    
    
  });
  drawBands(g, 'moist-'+panel.id, edgeD, 3, 0, BAND_DEG);
  panel.islands.forEach((pts, i) => {
    const d = smoothPath(pts, true);
    const c = mk('clipPath', {id:'isl-'+panel.id+'-'+i}, defs);
    mk('path', {d:d}, c);
    const isl = mk('path', {d:d, fill:rhColors[3]}, g);
    
    
    drawBands(g, 'isl-'+panel.id+'-'+i, d, 2, 0, 0.55);
  });
  panel.warm.forEach(entry => {
    const patch = mk('path', {d:smoothPath(entry[1], true), fill:rhColors[entry[0]]}, g);
    
    
  });
}

function drawPanel(panel){
  const root = document.getElementById('panels');
  const left = columnLeft[panel.col], top = rowTop[panel.row];
  const g = mk('g', {transform:'translate('+left+' '+top+')'}, root);
  
  
  const defs = mk('defs', {}, g);
  const clip = mk('clipPath', {id:'clip-'+panel.id}, defs);
  mk('rect', {x:0, y:0, width:PANEL_W, height:PANEL_H}, clip);
  const plot = mk('g', {'clip-path':'url(#clip-'+panel.id+')'}, g);
  
  
  if (panel.edge) drawField(panel, plot, defs);

  lonTicks.forEach(v => {
    const gl = mk('line', {x1:xScale(v), x2:xScale(v), y1:0, y2:PANEL_H, stroke:'#8c8c8c', 'stroke-opacity':0.22, 'stroke-width':1.6, 'stroke-dasharray':'5 4'}, plot);
    
    
  });
  latTicks.forEach(v => {
    const gl = mk('line', {x1:0, x2:PANEL_W, y1:yScale(v), y2:yScale(v), stroke:'#8c8c8c', 'stroke-opacity':0.22, 'stroke-width':1.6, 'stroke-dasharray':'5 4'}, plot);
    
    
  });

  panel.theta.forEach(pts => {
    const l = mk('path', {d:smoothPath(pts, false), fill:'none', stroke:'#636363', 'stroke-width':2.6, 'stroke-linejoin':'round'}, plot);
    
    
  });
  panel.slp.forEach(pts => {
    const l = mk('path', {d:smoothPath(pts, true), fill:'none', stroke:'#222', 'stroke-width':2.6, 'stroke-dasharray':'17 5 3 5 3 5'}, plot);
    
    
  });
  panel.text.forEach(t => {
    const x = xScale(t[1]), y = yScale(t[2]);
    const lab = mk('text', {x:x, y:y, 'font-size':20, fill:'#3a3a3a', 'text-anchor':'middle', 'dominant-baseline':'central', transform:'rotate('+t[3]+' '+x+' '+y+')'}, plot);
    lab.textContent = t[0];
    
    
  });

  const frame = mk('rect', {x:0, y:0, width:PANEL_W, height:PANEL_H, fill:'none', stroke:'#000', 'stroke-width':3}, g);
  
  

  const stamp = mk('text', {x:25, y:66, 'font-size':48, fill:'#808080'}, g);
  stamp.textContent = panel.time;
  
  

  if (panel.col === 'a'){
    latTicks.forEach((v, i) => {
      const t = mk('text', {x:-8, y:yScale(v)+11.5, 'font-size':47, 'text-anchor':'end'}, g);
      t.textContent = latTickLabels[i];
      
      
    });
  }
  if (panel.row === 3){
    lonTicks.forEach((v, i) => {
      const t = mk('text', {x:xScale(v), y:432, 'font-size':47, 'text-anchor':'middle'}, g);
      t.textContent = lonTickLabels[i];
      
      
    });
  }
}

function cbX(v){ return 522 + (v - 15) * 34.58; }
function drawColorbar(){
  const g = document.getElementById('colorbar');
  const top = 1969, h = 46;
  rhColors.forEach((c, i) => {
    const s = mk('rect', {x:cbX(rhBounds[i]), y:top, width:cbX(rhBounds[i+1]) - cbX(rhBounds[i]) + 0.5, height:h, fill:c}, g);
    
    
  });
  const fr = mk('rect', {x:cbX(15), y:top, width:cbX(105)-cbX(15), height:h, fill:'none', stroke:'#000', 'stroke-width':3}, g);
  
  
  rhTicks.forEach(v => {
    const tk = mk('line', {x1:cbX(v), x2:cbX(v), y1:top+h, y2:top+h+11, stroke:'#000', 'stroke-width':2}, g);
    
    
    const t = mk('text', {x:cbX(v), y:2078, 'font-size':58.5, 'text-anchor':'middle'}, g);
    t.textContent = v;
    
    
  });
}
panelList.forEach(drawPanel);
drawColorbar();
</script>
</body>
</html>
